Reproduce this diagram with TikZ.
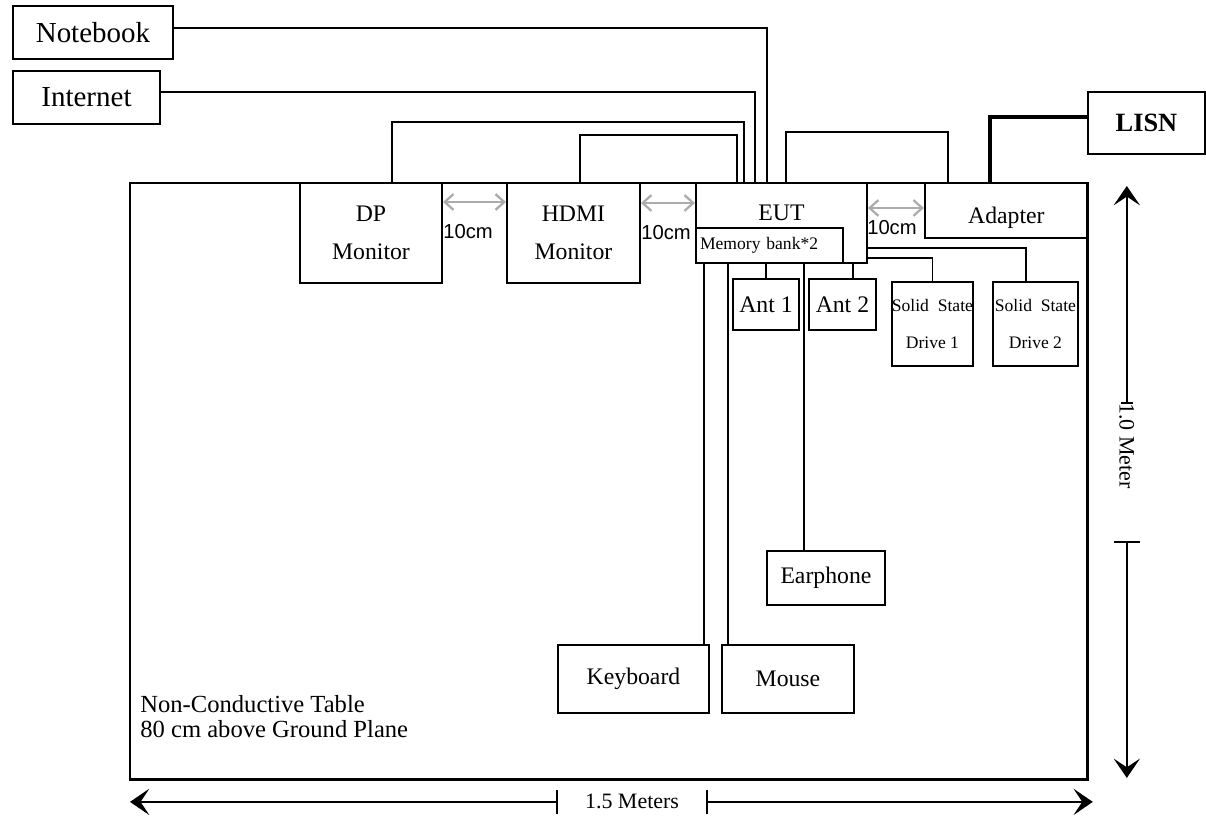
\documentclass[tikz,border=0pt]{standalone}
\usepackage{fontspec}
\setmainfont{Liberation Serif}
\newfontfamily\arialfont{Liberation Sans}
\usetikzlibrary{calc}
\usetikzlibrary{arrows.meta}

\begin{document}
\begin{tikzpicture}[x=0.02cm, y=-0.02cm,
	box/.style={draw, line width=0.9pt, inner sep=0pt, outer sep=0pt, anchor=north west, align=center, font=\fontsize{13.5}{22}\selectfont},
	cable/.style={line width=0.8pt},
	gaparrow/.style={draw=gray!65, line width=1.3pt, {Straight Barb[length=5pt,width=9pt]}-{Straight Barb[length=5pt,width=9pt]}},
	gaplbl/.style={font=\arialfont\fontsize{11.5}{12}\selectfont, inner sep=0pt, anchor=west},
	dimline/.style={line width=0.8pt, -{Stealth[length=11pt,width=15pt,inset=5pt]}}]
	\useasboundingbox (0,0) rectangle (1206,821);

	\node[draw, line width=1.7pt, outer sep=0pt, minimum width=19.16cm, minimum height=11.94cm, anchor=north west] (tbl) at (130,183) {};
	\node[anchor=south west, inner sep=0pt, align=left, font=\fontsize{14}{14.3}\selectfont] (tbltxt) at ($(tbl.south west)+(10,-42)$) {Non-Conductive Table\\80 cm above Ground Plane};

	% outside the table
	\node[box, minimum width=3.2cm, minimum height=1.06cm, font=\fontsize{16.5}{18}\selectfont] (nb) at (13,6) {Notebook};
	\node[box, minimum width=2.94cm, minimum height=1.06cm, font=\fontsize{16.5}{18}\selectfont] (inet) at (13,71) {Internet};
	\node[box, minimum width=2.34cm, minimum height=1.24cm, font=\bfseries\fontsize{15}{17}\selectfont] (lisn) at (1088,92) {LISN};

	% on the table
	\node[box, minimum width=2.84cm, minimum height=2cm] (dp) at ($(tbl.north west)+(170,0)$) {DP\\Monitor};
	\node[box, minimum width=2.66cm, minimum height=2cm] (hdmi) at ($(dp.north east)+(65,0)$) {HDMI\\Monitor};
	\node[box, minimum width=3.42cm, minimum height=1.6cm, label={[anchor=north, inner sep=0pt, yshift=-0.44cm, font=\fontsize{13.5}{16}\selectfont]north:EUT}] (eut) at ($(hdmi.north east)+(56,0)$) {};
	\node[box, anchor=south west, minimum width=2.94cm, minimum height=0.7cm, inner xsep=2pt, text width=79pt, align=left, font=\fontsize{10}{12}\selectfont] (mem) at (eut.south west) {Memory bank*2};
	\node[box, minimum width=3.26cm, minimum height=1.1cm, label={[inner sep=0pt, yshift=-0.14cm, font=\fontsize{13.5}{16}\selectfont]center:Adapter}] (adp) at ($(eut.north east)+(58,0)$) {};

	\node[box, minimum width=1.32cm, minimum height=1.02cm] (ant1) at ($(eut.south west)+(37,16)$) {Ant 1};
	\node[box, minimum width=1.34cm, minimum height=1.02cm] (ant2) at ($(ant1.north east)+(10,0)$) {Ant 2};
	\node[box, minimum width=1.62cm, minimum height=1.68cm, font=\fontsize{10}{21.5}\selectfont] (ssd1) at ($(eut.south east)+(25,19)$) {Solid\ \ State\\Drive 1};
	\node[box, minimum width=1.7cm, minimum height=1.68cm, font=\fontsize{10}{21.5}\selectfont] (ssd2) at ($(ssd1.north east)+(20,0)$) {Solid\ \ State\\Drive 2};
	\node[box, minimum width=2.36cm, minimum height=1.08cm] (ep) at ($(eut.south west)+(71,288)$) {Earphone};
	\node[box, minimum width=3.02cm, minimum height=1.36cm] (kb) at ($(tbl.north west)+(428,462)$) {Keyboard};
	\node[box, minimum width=2.64cm, minimum height=1.36cm] (ms) at ($(kb.north east)+(13,0)$) {Mouse};

	% cable ends on the EUT
	\coordinate (eHd) at ($(eut.north west)+(41,0)$);
	\coordinate (eDp) at ($(eut.north west)+(48,0)$);
	\coordinate (eIn) at ($(eut.north west)+(59,0)$);
	\coordinate (eNb) at ($(eut.north west)+(71,0)$);
	\coordinate (eKb) at ($(eut.south west)+(8,0)$);
	\coordinate (eMs) at ($(eut.south west)+(32,0)$);
	\coordinate (eEp) at ($(eut.south west)+(108,0)$);
	\coordinate (eA2) at ($(eut.south west)+(157,0)$);

	\draw[cable] ($(nb.north east)+(0,22)$) -| (eNb);
	\draw[cable] ($(inet.north east)+(0,21)$) -| (eIn);
	\draw[cable] ($(dp.north west)+(92,0)$) -- ++(0,-61) -| (eDp);
	\draw[cable] ($(hdmi.north west)+(73,0)$) -- ++(0,-48) -| (eHd);
	\draw[cable] ($(eut.north west)+(90,0)$) -- ++(0,-51) -| ($(adp.north west)+(23,0)$);
	\draw[line width=1.8pt] ($(adp.north west)+(65,0)$) |- ($(lisn.north west)+(0,25)$);

	\draw[cable] (eKb) -- (eKb |- kb.north);
	\draw[cable] (eMs) -- (eMs |- ms.north);
	\draw[cable] (eEp) -- (eEp |- ep.north);
	\draw[cable] (ant1.north) -- (ant1.north |- eut.south);
	\draw[cable] (eA2) -- (eA2 |- ant2.north);
	\draw[cable] ($(eut.south east)+(0,-5)$) -| (ssd1.north);
	\draw[cable] ($(eut.south east)+(0,-15)$) -| ($(ssd2.north west)+(33,0)$);

	% 10cm spacing
	\draw[gaparrow] ($(dp.north east)+(1,19)$) -- ($(hdmi.north west)+(-1,19)$);
	\draw[gaparrow] ($(hdmi.north east)+(1,20)$) -- ($(eut.north west)+(-1,20)$);
	\draw[gaparrow] ($(eut.north east)+(1,25)$) -- ($(adp.north west)+(-1,25)$);
	\node[gaplbl] (g1) at ($(dp.north east)+(1,49)$) {10cm};
	\node[gaplbl] (g2) at ($(hdmi.north east)+(1,50)$) {10cm};
	\node[gaplbl] (g3) at ($(eut.north east)+(0,45)$) {10cm};

	% dimensions
	\node[minimum width=2.98cm, minimum height=0.46cm, inner sep=0pt, font=\fontsize{12.5}{13}\selectfont] (hdim) at ($(tbl.south west)+(502,22)$) {1.5 Meters};
	\coordinate (hL) at ($(tbl.south west)+(0,22)$);
	\coordinate (hR) at ($(tbl.south east)+(5,22)$);
	\draw[dimline] (hdim.west) -- (hL);
	\draw[dimline] (hdim.east) -- (hR);
	\draw[line width=0.8pt] (hdim.north west) -- (hdim.south west);
	\draw[line width=0.8pt] (hdim.north east) -- (hdim.south east);

	\node[rotate=-90, inner sep=0pt, font=\fontsize{12.5}{13}\selectfont] (vdim) at ($(tbl.north east)+(39,263)$) {1.0 Meter};
	\coordinate (vT) at ($(tbl.north east)+(39,3)$);
	\coordinate (vB) at ($(tbl.south east)+(39,-2)$);
	\coordinate (vt1) at ($(tbl.north east)+(39,220)$);
	\coordinate (vt2) at ($(tbl.north east)+(39,359)$);
	\draw[dimline] (vt1) -- (vT);
	\draw[dimline] (vt2) -- (vB);
	\draw[line width=0.8pt] ($(vt1)+(-6,0)$) -- ($(vt1)+(6,0)$);
	\draw[line width=0.8pt] ($(vt2)+(-13,0)$) -- ($(vt2)+(13,0)$);
\end{tikzpicture}
\end{document}
